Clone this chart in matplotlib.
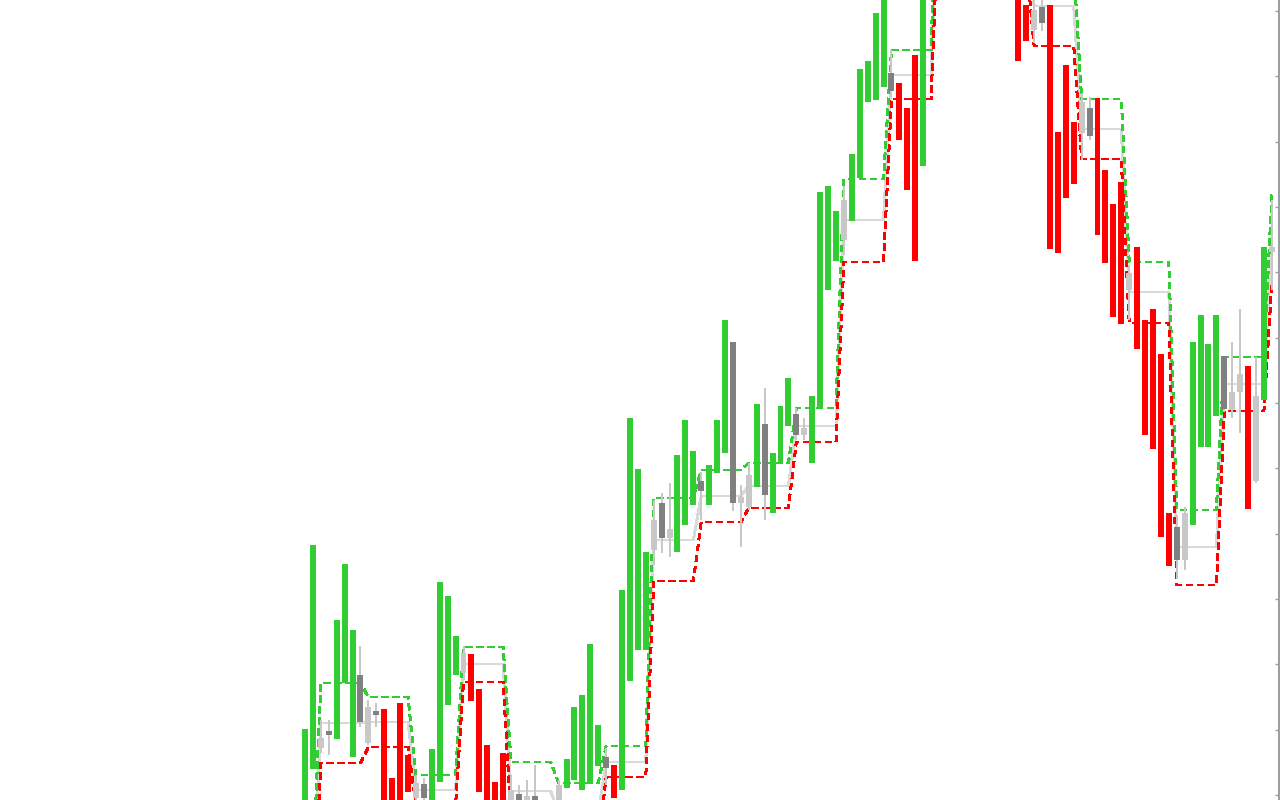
"""Box breakout chart: per-bar candles over higher-timeframe boxes."""

import matplotlib
import matplotlib.pyplot as plt
import numpy as np

matplotlib.use("Agg")

# candle kind per bar: G = up bar, R = down bar, d = dark grey candle, l = light grey candle
kinds = list(
    "GGldGGGdld"  # 0-9
    "RRRRldGGGG"  # 10-19
    "lRRRRRldld"  # 20-29
    "ldlGGGGGdR"  # 30-39
    "GGGGldlGGG"  # 40-49
    "dGGGdllGdG"  # 50-59
    "GGdlGGGGlG"  # 60-69
    "GGGGdRRRGG"  # 70-79
    "GGdRGlRRGd"  # 80-89
    "RRldRRRRld"  # 90-99
    "RRRRlRRRRR"  # 100-109
    "dlGGGGdllR"  # 110-119
    "lGl"         # 120-122
)

opens = [
    -15, 31, 52, 69, 61, 117, 43, 125, 57, 89,
    91, 22, 97, 45, 2, 16, -15, 18, 95, 125,
    127, 146, 111, 55, 18, 47, -10, 6, -10, 4,
    -15, -3, -10, 12, 20, 10, 18, 34, 43, 35,
    10, 119, 150, 150, 250, 297, 262, 248, 275, 295,
    319, 295, 327, 347, 458, 297, 293, 313, 376, 287,
    337, 374, 386, 365, 337, 392, 510, 539, 560, 579,
    622, 698, 700, 713, 727, 717, 692, 745, 634, 830,
    900, 950, 1040, 1010, 950, 1000, 1020, 940, 880, 950,
    850, 795, 770, 793, 795, 668, 735, 678, 667, 692,
    702, 630, 596, 618, 510, 553, 480, 491, 446, 287,
    273, 240, 275, 353, 353, 384, 444, 390, 408, 434,
    319, 400, 548,
]
closes = [
    71, 255, 62, 65, 180, 236, 170, 78, 93, 85,
    -15, -15, -15, 8, 17, 2, 51, 218, 204, 164,
    147, 99, 8, -15, -15, -15, 10, -10, 4, -10,
    -5, -12, 15, 41, 93, 105, 156, 75, 32, 2,
    210, 382, 331, 248, 280, 262, 271, 345, 380, 349,
    309, 335, 380, 480, 297, 303, 325, 396, 305, 347,
    394, 422, 365, 372, 404, 608, 614, 589, 600, 646,
    731, 739, 787, 820, 709, 660, 610, 539, 860, 950,
    1000, 1040, 1000, 950, 1030, 1020, 930, 880, 960, 920,
    739, 759, 790, 777, 551, 547, 602, 616, 698, 664,
    565, 537, 483, 476, 527, 451, 365, 351, 263, 234,
    240, 287, 458, 485, 456, 485, 391, 408, 426, 291,
    404, 553, 553,
]
highs = [
    71, 255, 80, 80, 180, 236, 170, 154, 100, 97,
    91, 22, 97, 45, 25, 22, 51, 218, 204, 164,
    154, 146, 111, 55, 18, 47, 25, 15, 20, 35,
    0, 0, 20, 41, 93, 105, 156, 75, 52, 35,
    210, 382, 331, 248, 300, 307, 317, 345, 380, 349,
    328, 335, 380, 480, 458, 315, 337, 396, 412, 347,
    394, 422, 392, 382, 404, 608, 614, 589, 614, 646,
    731, 739, 787, 820, 750, 717, 692, 745, 860, 950,
    1000, 1040, 1060, 1010, 1030, 1040, 1020, 940, 960, 970,
    850, 795, 810, 805, 795, 668, 735, 678, 707, 703,
    702, 630, 596, 618, 535, 553, 480, 491, 446, 287,
    285, 293, 458, 485, 456, 485, 444, 458, 491, 434,
    443, 553, 600,
]
lows = [
    -15, 31, 47, 45, 61, 117, 43, 73, 55, 73,
    -15, -15, -15, 8, -5, -5, -15, 18, 95, 125,
    120, 99, 8, -15, -15, -15, -15, -15, -15, -15,
    -20, -20, -15, 12, 20, 10, 18, 34, 15, 2,
    10, 119, 150, 150, 235, 247, 243, 248, 275, 295,
    280, 295, 327, 347, 289, 253, 290, 313, 280, 287,
    337, 374, 360, 360, 337, 392, 510, 539, 545, 579,
    622, 698, 700, 713, 703, 660, 610, 539, 634, 830,
    900, 950, 990, 950, 950, 990, 930, 880, 880, 910,
    739, 759, 757, 769, 551, 547, 602, 616, 640, 660,
    565, 537, 483, 476, 480, 451, 365, 351, 263, 234,
    221, 230, 275, 353, 353, 384, 388, 382, 367, 291,
    317, 400, 510,
]

# higher-timeframe boxes: bars covered, top, bottom and middle level
box_len = [2] + [6] * 20 + [1]
box_top = [-70, 117, 103, 25, 153, 38, 17, 54, 302, 330, 337,
           392, 621, 750, 1000, 960, 834, 701, 538, 290, 443, 605]
box_bot = [-120, 37, 53, -5, 118, -20, -45, 23, 219, 278, 292,
           358, 538, 701, 900, 840, 754, 641, 477, 215, 389, 517]
box_mid = [-95, 77, 78, 10, 136, 9, -14, 38, 260, 304, 314,
           374, 580, 725, 950, 900, 794, 671, 508, 253, 416, 561]

GREEN = "#32cd32"
RED = "#ff0000"
DARK = "#808080"
LIGHT = "#c8c8c8"
MIDLINE = "#d9d9d9"
AXIS = "#9b9ea3"

x = np.arange(len(opens))
o = np.array(opens, float)
c = np.array(closes, float)
hi = np.array(highs, float)
lo = np.array(lows, float)
top = np.repeat(box_top, box_len)
bot = np.repeat(box_bot, box_len)
mid = np.repeat(box_mid, box_len)

fig = plt.figure(figsize=(12.8, 8), dpi=100)
ax = fig.add_axes([0, 0, 1278.5 / 1280, 1])

step = 7.925  # pixels per bar
ax.set_xlim(-305 / step, (1278.5 - 305) / step)
ax.set_ylim(0, 800)

lw = 1.44
ax.plot(x, mid, color=MIDLINE, lw=lw, zorder=1, antialiased=False)
ax.plot(x, top, color=GREEN, lw=lw, ls=(0, (3, 2.5)), zorder=2, antialiased=False)
ax.plot(x, bot, color=RED, lw=lw, ls=(0, (3, 2.5)), zorder=2, antialiased=False)

colors = {"G": GREEN, "R": RED, "d": DARK, "l": LIGHT}
grey = np.array([k in "dl" for k in kinds])
ax.vlines(x[grey], lo[grey], hi[grey], color=LIGHT, lw=lw, zorder=3,
          antialiased=False)
body_lo = np.minimum(o, c)
body_h = np.maximum(np.abs(c - o), 2)
ax.bar(x, body_h, bottom=body_lo, width=0.757,
       color=[colors[k] for k in kinds], linewidth=0, zorder=4,
       antialiased=False)

for side in ("top", "left", "bottom"):
    ax.spines[side].set_visible(False)
ax.spines["right"].set_color(AXIS)
ax.spines["right"].set_linewidth(2.2)
ax.set_xticks([])
ax.yaxis.tick_right()
ax.set_yticks(np.arange(5, 800, 65.35))
ax.tick_params(axis="y", direction="in", length=3, width=1, color=AXIS,
               labelright=False, labelleft=False)

fig.savefig("out.png", dpi=100)
